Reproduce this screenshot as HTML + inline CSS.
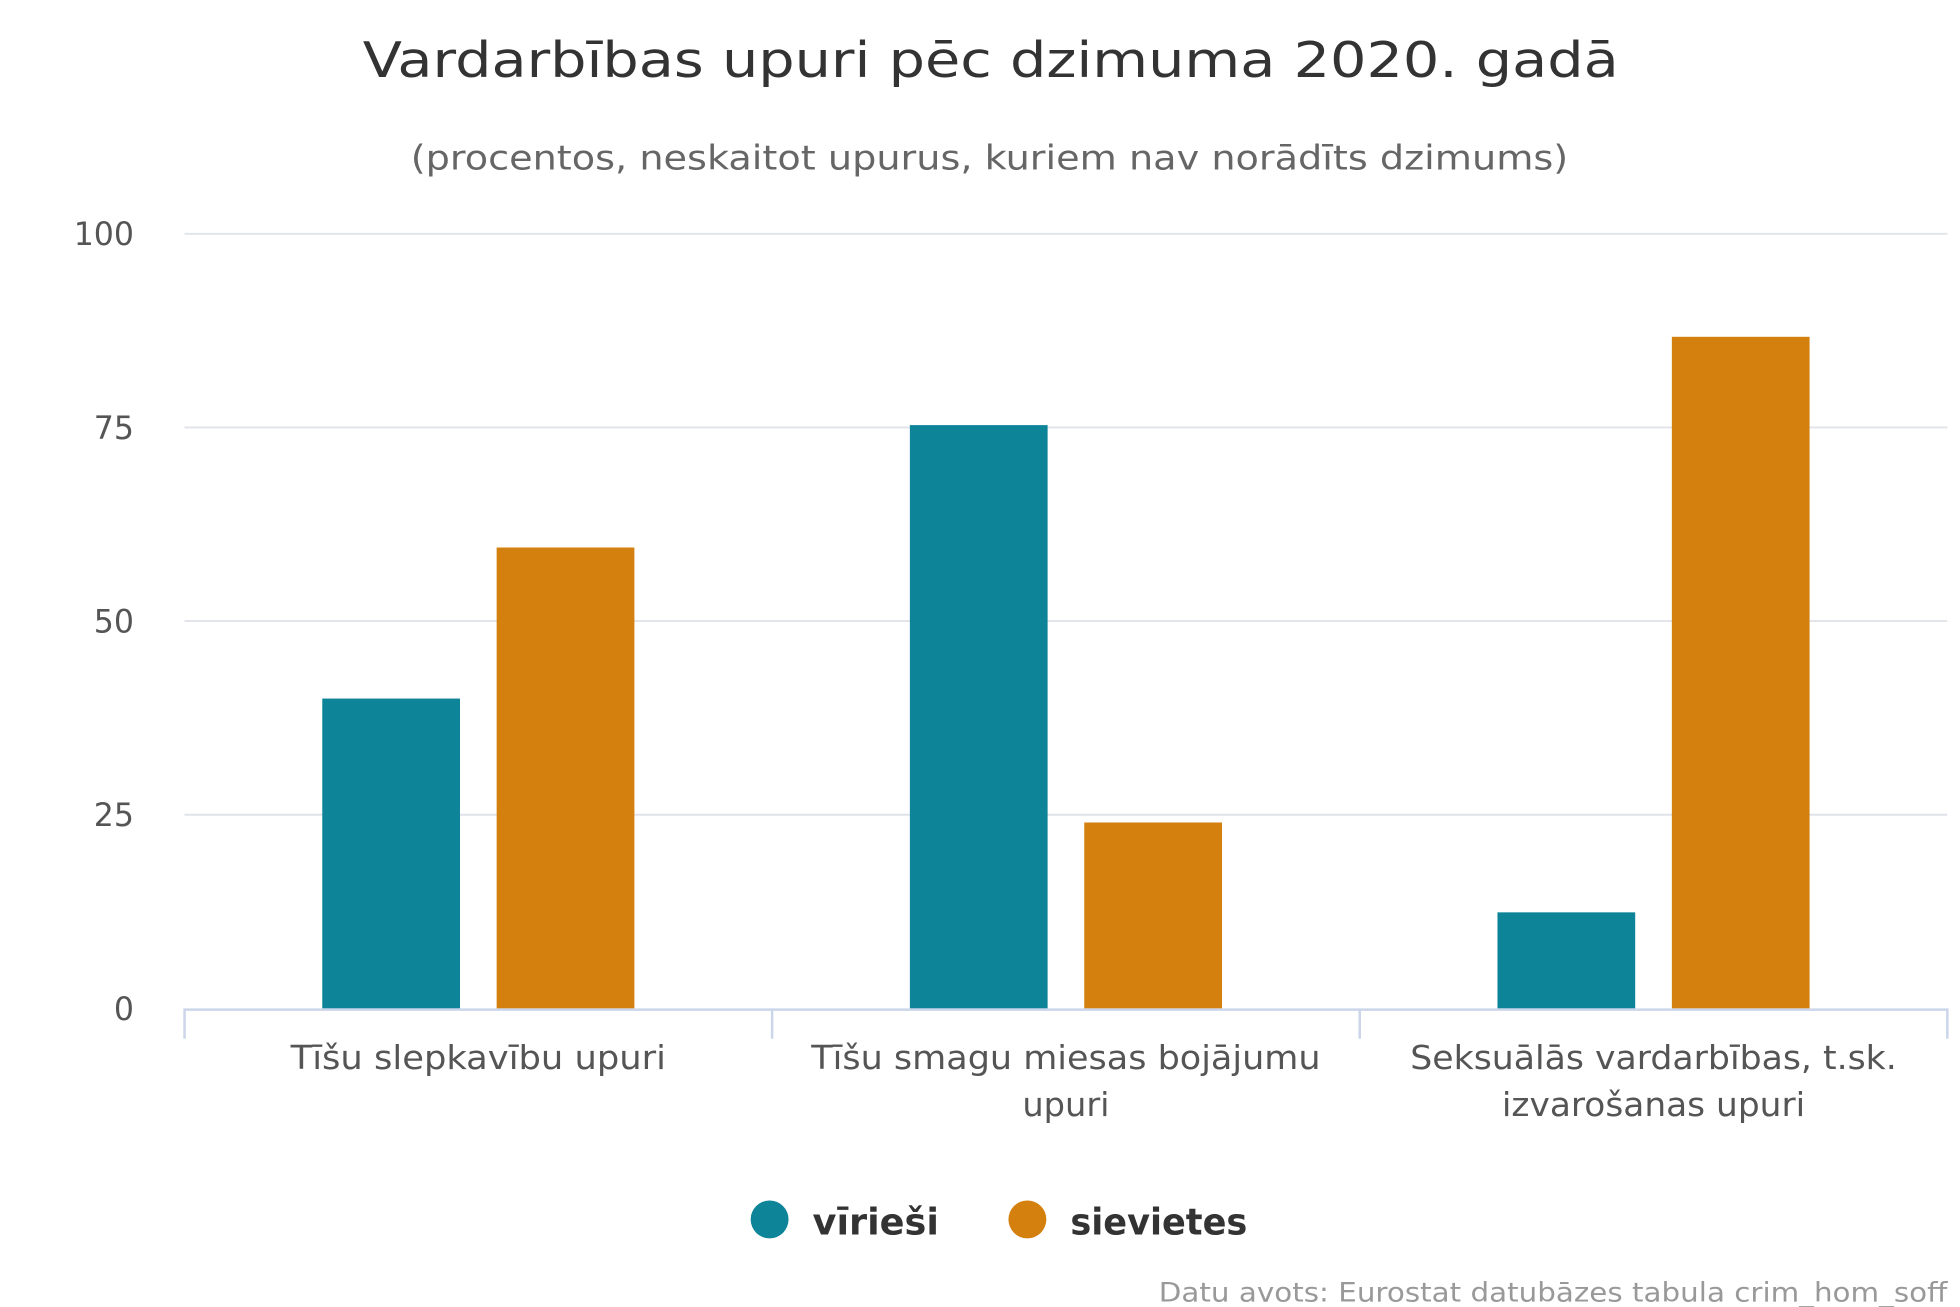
<!DOCTYPE html>
<html><head><meta charset="utf-8"><style>
html,body{margin:0;padding:0;background:#fff;}
svg{display:block;font-family:"DejaVu Sans","Liberation Sans",sans-serif;}
</style></head><body>
<svg id="chart" width="1960" height="1307" viewBox="0 0 1551 1034.3" xmlns="http://www.w3.org/2000/svg">
<rect width="1551" height="1034.3" fill="#fff"/>
<text x="784" y="61" text-anchor="middle" font-size="39" fill="#333" textLength="994" lengthAdjust="spacingAndGlyphs">Vardarbības upuri pēc dzimuma 2020. gadā</text>
<text x="783" y="134" text-anchor="middle" font-size="27" fill="#666" textLength="916" lengthAdjust="spacingAndGlyphs">(procentos, neskaitot upurus, kuriem nav norādīts dzimums)</text>
<g id="grid"></g><g id="bars"></g><g id="xaxis"></g>
<g>
<g><circle cx="609" cy="965" r="15" fill="#0e8499"/><text x="643" y="977" font-size="29" font-weight="bold" fill="#333" textLength="100" lengthAdjust="spacingAndGlyphs">vīrieši</text></g>
<g><circle cx="813" cy="965" r="15" fill="#d4800e"/><text x="847" y="977" font-size="29" font-weight="bold" fill="#333" textLength="140" lengthAdjust="spacingAndGlyphs">sievietes</text></g>
</g>
<text x="1541" y="1030" text-anchor="end" font-size="21" fill="#999" textLength="624" lengthAdjust="spacingAndGlyphs">Datu avots: Eurostat datubāzes tabula crim_hom_soff</text>
</svg>
<script>
const categories=[["Tīšu slepkavību upuri"],["Tīšu smagu miesas bojājumu","upuri"],["Seksuālās vardarbības, t.sk.","izvarošanas upuri"]];
const seriesNames=["vīrieši","sievietes"];
const men=[40.0,75.3,12.4];
const women=[59.5,24.0,86.7];
const yTicks=[0,25,50,75,100];
const labelWidths=[[297],[403,69],[385,240]];
const colors=["#0e8499","#d4800e"];
const NS="http://www.w3.org/2000/svg";
const X0=146,X1=1541,Y0=798,Y1=185;
function y(v){return Y0-(v/100)*(Y0-Y1);}
const catW=(X1-X0)/categories.length;
function mk(tag,attrs,parent){const e=document.createElementNS(NS,tag);for(const k in attrs)e.setAttribute(k,attrs[k]);parent.appendChild(e);return e;}
const grid=document.getElementById('grid'),bars=document.getElementById('bars'),xa=document.getElementById('xaxis');
yTicks.forEach(t=>{
 if(t>0){const l=mk('line',{x1:X0,x2:X1,y1:y(t),y2:y(t),stroke:'#e0e3ea','stroke-width':1.5},grid);
 
 }
 const tx=mk('text',{x:106,y:y(t)+9,'text-anchor':'end','font-size':25,fill:'#555'},grid);
 tx.textContent=t;
 
 
});
const ax=mk('line',{x1:X0,x2:X1,y1:Y0+1,y2:Y0+1,stroke:'#ccd6eb','stroke-width':2},xa);


for(let i=0;i<=categories.length;i++){const tk=mk('line',{x1:X0+i*catW,x2:X0+i*catW,y1:Y0,y2:Y0+24,stroke:'#ccd6eb','stroke-width':2},xa);
 
 }
const bw=109,gap=29;
[men,women].forEach((s,si)=>{
 s.forEach((v,i)=>{
  const cx=X0+(i+0.5)*catW;
  const bx=cx-bw-gap/2+si*(bw+gap);
  const r=mk('rect',{x:bx,y:y(v),width:bw,height:Y0-y(v),fill:colors[si]},bars);
  
  
 });
});
categories.forEach((c,i)=>{
 const cx=X0+(i+0.5)*catW;
 c.forEach((line,j)=>{
  const t=mk('text',{x:cx,y:846+j*37,'text-anchor':'middle','font-size':26,fill:'#555',textLength:labelWidths[i][j],lengthAdjust:'spacingAndGlyphs'},xa);
  
  
  t.textContent=line;
 });
});
</script>
</body></html>
